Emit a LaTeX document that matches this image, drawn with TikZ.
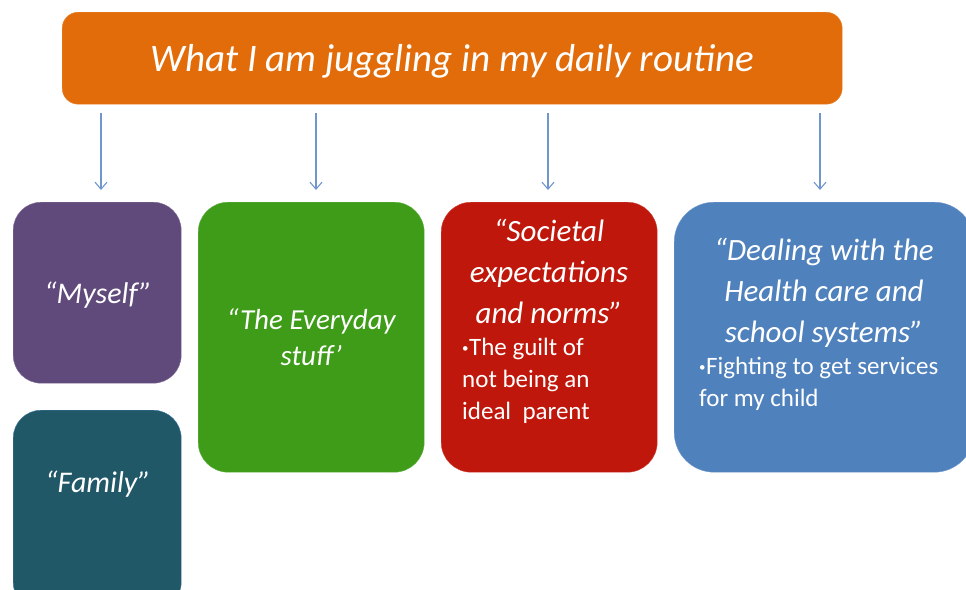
\documentclass[tikz,border=0pt]{standalone}
\usepackage{fontspec}
\setmainfont{Carlito}
\usetikzlibrary{arrows.meta}
\definecolor{cOrange}{HTML}{E36C0A}
\definecolor{cPurple}{HTML}{604A7B}
\definecolor{cTeal}{HTML}{215868}
\definecolor{cGreen}{HTML}{3E9C19}
\definecolor{cRed}{HTML}{BF170B}
\definecolor{cBlue}{HTML}{4F81BD}
\definecolor{cArrow}{HTML}{6F97CE}
\newcommand{\smbul}{\raisebox{3pt}{\fontsize{13}{13}\selectfont\textbullet}\kern0.5pt}
\begin{document}
\begin{tikzpicture}[x=1pt,y=-1pt,
  box/.style={inner sep=0pt, anchor=north west, text=white, align=center,
    font=\itshape\fontsize{29}{36}\selectfont},
  lbl/.style={inner sep=0pt, text=white, align=center,
    font=\itshape\fontsize{30}{36}\selectfont},
  head/.style={inner sep=0pt, text=white, align=center,
    font=\itshape\fontsize{31}{41}\selectfont},
  bul/.style={inner sep=0pt, text=white, align=left, anchor=west,
    font=\fontsize{25}{32}\selectfont},
  arr/.style={draw=cArrow, line width=1.1pt, -{Straight Barb[length=7pt,width=12pt]}}]
\useasboundingbox (0,0) rectangle (966,589);
\clip (0,0) rectangle (966,589);
\node[box, fill=cOrange, draw=cOrange!85!white, rounded corners=16pt,
  minimum width=780pt, minimum height=92pt, text depth=0pt,
  font=\itshape\fontsize{39}{48}\selectfont] (title) at (62,12)
  {What I am juggling in my daily routine};
\node[box, fill=cPurple, draw=cPurple!80!white, rounded corners=28pt,
  minimum width=168pt, minimum height=181pt] (myself) at (13,202) {};
\node[box, fill=cTeal, draw=cBlue!70!cTeal, rounded corners=28pt,
  minimum width=168pt, minimum height=200pt] (family) at (13,410) {};
\node[box, fill=cGreen, draw=cGreen!80!white, rounded corners=30pt,
  minimum width=226pt, minimum height=270pt] (everyday) at (198,202)
  {“The Everyday\\stuff’};
\node[box, fill=cRed, draw=cRed!80!white, rounded corners=30pt,
  minimum width=216pt, minimum height=270pt] (societal) at (441,202) {};
\node[box, fill=cBlue, draw=cBlue!80!white, rounded corners=40pt,
  minimum width=300pt, minimum height=270pt] (dealing) at (674,202) {};
\node[lbl] (myselfT) at (98,295) {“Myself”};
\node[lbl] (familyT) at (98,484) {“Family”};
\node[head] (socH) at (549,271) {“Societal\\expectations\\and norms”};
\node[bul] (socB) at (462,381) {\smbul The guilt of\\not being an\\ideal~~parent};
\node[head] (dealH) at (824,293) {“Dealing with the\\Health care and\\school systems”};
\node[bul] (dealB) at (699,384) {\smbul Fighting to get services\\for my child};
\coordinate (s1) at (101,113); \coordinate (e1) at (101,190);
\coordinate (s2) at (316,113); \coordinate (e2) at (316,190);
\coordinate (s3) at (548,113); \coordinate (e3) at (548,190);
\coordinate (s4) at (820,113); \coordinate (e4) at (820,190);
\draw[arr] (s1) -- (e1);
\draw[arr] (s2) -- (e2);
\draw[arr] (s3) -- (e3);
\draw[arr] (s4) -- (e4);
\end{tikzpicture}
\end{document}
